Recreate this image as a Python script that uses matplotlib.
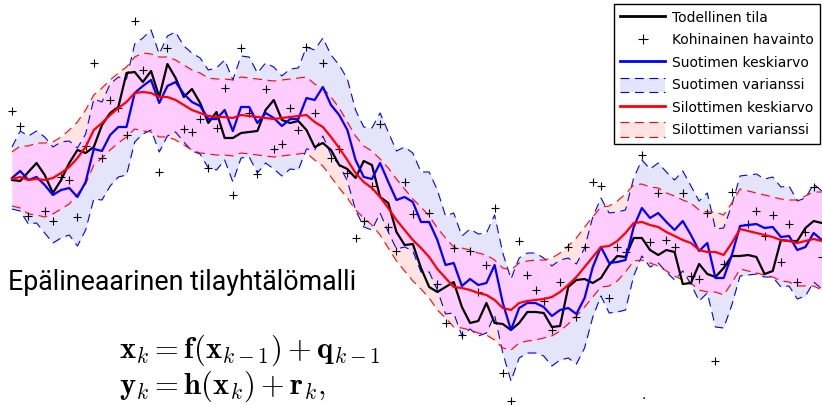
import numpy as np
import matplotlib.pyplot as plt
from matplotlib.lines import Line2D
from matplotlib.patches import Patch, Rectangle
from matplotlib.legend_handler import HandlerBase

plt.rcParams['mathtext.fontset'] = 'cm'

# values (vertical position, screen units: larger = lower)
true_state = [180, 181, 172, 163, 175, 193, 180, 163, 150, 153, 147, 125, 113, 107, 73, 72, 82, 71, 97, 64,
              78, 97, 89, 103, 123, 112, 138, 138, 133, 132, 131, 110, 100, 120, 123, 121, 130, 147, 143, 150,
              165, 169, 178, 161, 165, 197, 203, 232, 245, 244, 268, 287, 292, 287, 282, 307, 323, 321, 303, 323,
              324, 330, 323, 312, 312, 313, 327, 326, 287, 280, 279, 283, 278, 265, 256, 257, 238, 238, 250, 255,
              250, 252, 284, 283, 264, 274, 277, 268, 256, 256, 255, 257, 274, 271, 240, 241, 241, 228, 221, 223]

observations = [111, 126, 216, np.nan, 211, 221, 177, 180, 217, 146, 63, 158, 100, 108, 135, 21, 70, np.nan, 172, 48,
                np.nan, 129, 132, 119, 168, 128, 88, 195, 48, 113, 174, 89, 149, 144, 108, 130, 47, 113, 63, 158,
                149, 173, 238, 221, 186, 124, 227, 251, 182, 214, np.nan, 213, 284, 323, 248, 335, 251, 292, 265, 208,
                373, 401, 241, 275, 290, 301, 330, 282, 247, 317, 247, 182, 186, 298, 247, 252, np.nan, 155, 242, 193,
                240, 247, 193, 276, 279, 213, 361, 264, 192, np.nan, 224, 211, 236, 215, 262, 224, 282, 232, 187, 257]

filter_mean = [178, 171, 180, 177, 185, 195, 190, 188, 197, 182, 149, 151, 135, 127, 127, 93, 86, 80, 103, 86,
               82, 94, 102, 106, 119, 119, 110, 131, 107, 107, 123, 113, 118, 126, 119, 119, 98, 100, 87, 105,
               115, 130, 160, 177, 179, 163, 182, 200, 197, 202, 222, 222, 240, 265, 263, 286, 279, 285, 283, 265,
               303, 330, 308, 303, 303, 307, 316, 310, 308, 314, 298, 267, 247, 263, 262, 260, 227, 208, 218, 213,
               222, 230, 221, 235, 251, 243, 278, 278, 255, 226, 225, 224, 228, 227, 237, 236, 250, 247, 233, 240]

filter_sd = [31, 40, 44, 46, 48, 48, 48, 47, 49, 48, 50, 49, 51, 50, 48, 49, 48, 50, 49, 50,
             50, 48, 49, 48, 49, 51, 50, 51, 51, 50, 50, 50, 51, 50, 50, 51, 51, 50, 49, 50,
             50, 51, 50, 50, 51, 50, 50, 49, 50, 49, 50, 50, 50, 49, 50, 50, 50, 51, 50, 50,
             50, 51, 50, 50, 50, 49, 50, 50, 50, 50, 50, 50, 49, 50, 50, 50, 49, 48, 49, 50,
             50, 50, 50, 49, 50, 50, 49, 50, 50, 50, 50, 50, 49, 50, 50, 50, 49, 49, 49, 49]

smoother_mean = [179, 177, 180, 179, 180, 178, 173, 167, 158, 147, 130, 123, 115, 108, 102, 93, 92, 93, 97, 97,
                 100, 105, 110, 113, 116, 117, 117, 118, 115, 116, 117, 118, 119, 118, 117, 116, 115, 122, 127, 137,
                 148, 160, 173, 182, 188, 197, 208, 220, 230, 240, 248, 257, 269, 278, 287, 288, 290, 293, 295, 300,
                 308, 310, 303, 301, 300, 299, 297, 292, 285, 277, 267, 257, 247, 246, 241, 233, 223, 222, 225, 227,
                 232, 236, 240, 243, 250, 252, 252, 255, 243, 229, 231, 233, 235, 237, 240, 241, 243, 241, 239, 241]

smoother_sd = [27, 31, 34, 36, 37, 36, 36, 37, 36, 37, 35, 35, 35, 35, 35, 36, 39, 39, 40, 40,
               40, 40, 40, 40, 38, 38, 38, 38, 38, 38, 38, 38, 38, 38, 38, 38, 38, 38, 39, 40,
               40, 38, 37, 36, 37, 38, 40, 41, 41, 41, 41, 41, 41, 40, 40, 40, 40, 40, 40, 40,
               40, 40, 40, 40, 40, 39, 39, 39, 39, 39, 40, 40, 40, 40, 40, 39, 38, 38, 38, 39,
               39, 40, 40, 40, 40, 40, 40, 40, 40, 40, 40, 40, 40, 40, 41, 41, 43, 45, 47, 49]

labels = ['Todellinen tila', 'Kohinainen havainto', 'Suotimen keskiarvo', 'Suotimen varianssi',
          'Silottimen keskiarvo', 'Silottimen varianssi']

k = np.arange(len(true_state))
xf = np.array(filter_mean); sf = np.array(filter_sd)
xs = np.array(smoother_mean); ss = np.array(smoother_sd)
f_lo, f_hi = xf - sf, xf + sf
s_lo, s_hi = xs - ss, xs + ss

blue_fill = '#e4e4fb'
red_fill = '#fde4e2'
both_fill = '#ffccff'
dash = (0, (8, 5))


class BandHandler(HandlerBase):
    def __init__(self, face, edge):
        super().__init__()
        self.face = face
        self.edge = edge

    def create_artists(self, legend, orig_handle, xdescent, ydescent, width, height, fontsize, trans):
        x0, y0 = -xdescent, -ydescent
        r = Rectangle((x0, y0), width, height, facecolor=self.face, edgecolor='none', transform=trans)
        top = Line2D([x0, x0 + width], [y0 + height] * 2, color=self.edge, lw=0.8, ls=dash, transform=trans)
        bot = Line2D([x0, x0 + width], [y0] * 2, color=self.edge, lw=0.8, ls=dash, transform=trans)
        return [r, top, bot]


fig = plt.figure(figsize=(8.22, 4.05), dpi=100)
ax = fig.add_axes([0, 0, 1, 1])
ax.axis('off')

ax.fill_between(k, f_lo, f_hi, color=blue_fill, lw=0)
ax.fill_between(k, s_lo, s_hi, color=red_fill, lw=0)
lo = np.maximum(f_lo, s_lo)
hi = np.minimum(f_hi, s_hi)
ax.fill_between(k, lo, hi, where=hi > lo, interpolate=True, color=both_fill, lw=0)

ax.plot(k, f_lo, color='blue', lw=0.8, ls=dash)
ax.plot(k, f_hi, color='blue', lw=0.8, ls=dash)
ax.plot(k, s_lo, color='red', lw=0.8, ls=dash)
ax.plot(k, s_hi, color='red', lw=0.8, ls=dash)

ax.plot(k, true_state, color='black', lw=1.6)
ax.plot(k, observations, '+', color='black', ms=6, mew=0.8)
ax.plot(k, filter_mean, color='blue', lw=1.6)
ax.plot(k, smoother_mean, color='red', lw=1.6)

ax.set_xlim(-12 / 8.18, 810 / 8.18)
ax.set_ylim(405, 0)

h_true = Line2D([], [], color='black', lw=2)
h_obs = Line2D([], [], ls='none', marker='+', color='black', ms=7, mew=0.8)
h_fm = Line2D([], [], color='blue', lw=2)
h_fv = Patch()
h_sm = Line2D([], [], color='red', lw=2)
h_sv = Patch()
leg = fig.legend([h_true, h_obs, h_fm, h_fv, h_sm, h_sv], labels,
                 loc='upper right', bbox_to_anchor=(820 / 822, 1 - 4 / 405),
                 handler_map={h_fv: BandHandler(blue_fill, 'blue'), h_sv: BandHandler(red_fill, 'red')},
                 fontsize=10, handlelength=3.2, handleheight=1.2, handletextpad=0.5,
                 labelspacing=0.55, borderaxespad=0, fancybox=False, framealpha=1,
                 edgecolor='black', borderpad=0.45)
leg.get_frame().set_linewidth(1.0)

fig.text(8 / 822, 1 - 290 / 405, 'Epälineaarinen tilayhtälömalli', family='Roboto',
         fontsize=19.3, va='baseline', ha='left')
fig.text(119 / 822, 1 - 358 / 405, r'$\mathbf{x}_k = \mathbf{f}(\mathbf{x}_{k-1}) + \mathbf{q}_{k-1}$',
         fontsize=22, va='baseline', ha='left')
fig.text(119 / 822, 1 - 394 / 405, r'$\mathbf{y}_k = \mathbf{h}(\mathbf{x}_k) + \mathbf{r}_k,$',
         fontsize=22, va='baseline', ha='left')
fig.text(644 / 822, 1 - 399 / 405, '.', fontsize=10, va='baseline', ha='center')

fig.savefig('out.png', dpi=100)
